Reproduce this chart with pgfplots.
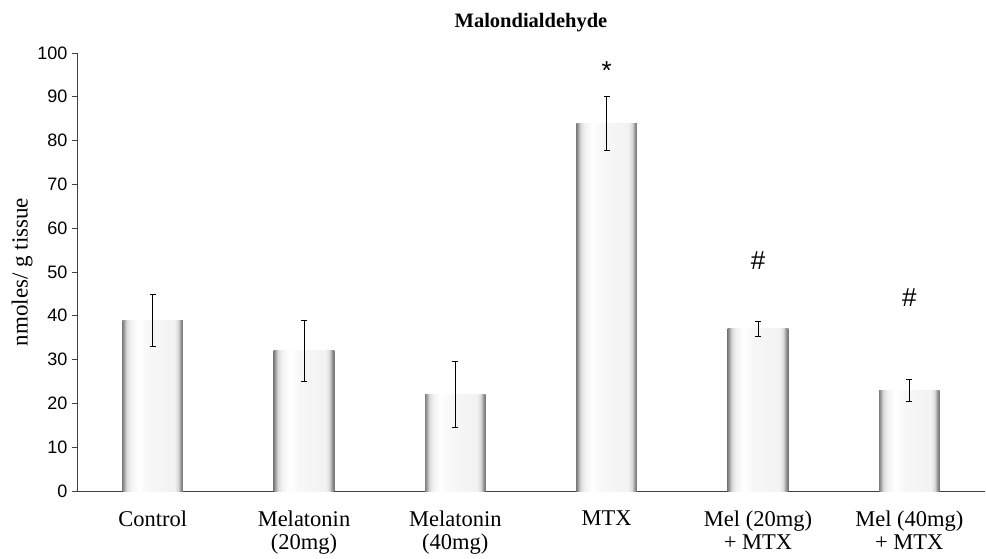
\documentclass[border=0pt]{standalone}
\usepackage{fontspec}
\setmainfont{Liberation Serif}
\newfontfamily\arial{Liberation Sans}
\usepackage{pgfplots}
\pgfplotsset{compat=1.18}
\pgfdeclarehorizontalshading{barshade}{100bp}{color(0bp)=(black!50); color(25bp)=(black!50); color(26.5bp)=(black!35); color(28.5bp)=(black!14); color(32bp)=(black!5); color(38bp)=(white); color(46bp)=(black!3); color(68bp)=(black!5); color(71bp)=(black!15); color(73.5bp)=(black!45); color(75bp)=(black!55); color(100bp)=(black!55)}
\pgfplotsset{
  mybar/.style={ybar, bar width=0.4, bar shift=0pt, draw=none, shading=barshade,
    error bars/.cd, y dir=both, y explicit,
    error bar style={draw=black, line width=0.7pt},
    error mark options={draw=black, line width=0.7pt, mark size=3pt, rotate=90}}
}
\begin{document}
\begin{tikzpicture}
\useasboundingbox (-77pt,-67pt) rectangle (909pt,491pt);
\begin{axis}[
  scale only axis, width=908pt, height=438pt,
  at={(0,0)}, anchor=south west,
  xmin=-0.5, xmax=5.5, ymin=0, ymax=100,
  axis lines*=left, axis line style={black!75, line width=0.8pt},
  ytick={0,10,...,100},
  xtick={0,1,2,3,4,5},
  xticklabels={Control, Melatonin\\(20mg), Melatonin\\(40mg), MTX, Mel (20mg)\\+ MTX, Mel (40mg)\\+ MTX},
  x tick style={draw=none},
  xticklabel style={align=center, font=\fontsize{22.5}{23.5}\selectfont, yshift=-11pt},
  extra x ticks={0.5,1.5,2.5,3.5,4.5},
  extra x tick labels={},
  extra x tick style={tick style={draw=black!75, line width=0.8pt}},
  tick align=outside, major tick length=5pt,
  ytick style={black!75, line width=0.8pt},
  yticklabel style={font=\arial\fontsize{18}{18}\selectfont, xshift=-1pt},
  /pgf/number format/assume math mode=true,
  ylabel={nmoles/ g tissue},
  ylabel style={font=\fontsize{23}{23}\selectfont, yshift=-2pt},
  title={\textbf{Malondialdehyde}},
  title style={font=\fontsize{20.5}{20.5}\selectfont, yshift=12pt},
  clip=false,
]
\addplot[mybar] coordinates {(0,39) +- (0,6)};
\addplot[mybar] coordinates {(1,32) +- (0,7)};
\addplot[mybar] coordinates {(2,22) +- (0,7.5)};
\addplot[mybar] coordinates {(3,84) +- (0,6.2)};
\addplot[mybar] coordinates {(4,37) +- (0,1.7)};
\addplot[mybar] coordinates {(5,23) +- (0,2.5)};
\node[font=\arial\fontsize{26}{26}\selectfont] at (axis cs:3,96) {*};
\node[font=\arial\fontsize{26}{26}\selectfont] at (axis cs:4,52.5) {\#};
\node[font=\arial\fontsize{26}{26}\selectfont] at (axis cs:5,44.2) {\#};
\end{axis}
\end{tikzpicture}
\end{document}
